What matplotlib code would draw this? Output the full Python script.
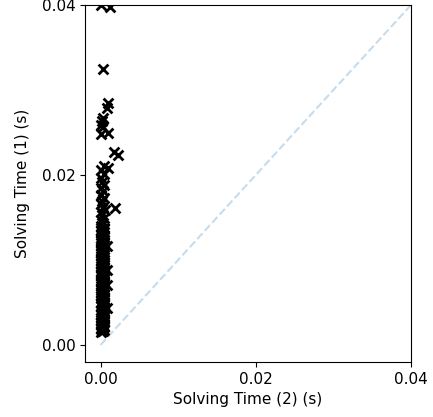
import matplotlib
matplotlib.use("Agg")
from matplotlib import pyplot as plt

# solving time of solver (2) vs solver (1), seconds
time2 = [0.0000, 0.0003, 0.0005, 0.0001, 0.0004, 0.0002, 0.0000, 0.0005, 0.0003, 0.0001,
         0.0004, 0.0000, 0.0002, 0.0005, 0.0003, 0.0008, 0.0001, 0.0004, 0.0000, 0.0002,
         0.0005, 0.0003, 0.0001, 0.0004, 0.0000, 0.0008, 0.0002, 0.0005, 0.0003, 0.0001,
         0.0004, 0.0000, 0.0002, 0.0005, 0.0003, 0.0001, 0.0004, 0.0000, 0.0008, 0.0002,
         0.0005, 0.0003, 0.0001, 0.0004, 0.0000, 0.0002, 0.0005, 0.0003, 0.0001, 0.0004,
         0.0000, 0.0008, 0.0002, 0.0005, 0.0003, 0.0001, 0.0004, 0.0000, 0.0002, 0.0005,
         0.0003, 0.0001, 0.0004,
         0.0002, 0.0000, 0.0004, 0.0001, 0.0003, 0.0005, 0.0000, 0.0002, 0.0004, 0.0001,
         0.0003, 0.0005, 0.0000, 0.0002, 0.0004, 0.0001, 0.0003, 0.0005, 0.0000, 0.0002,
         0.0004, 0.0001, 0.0003, 0.0005, 0.0000, 0.0002, 0.0004, 0.0001, 0.0003, 0.0005,
         0.0000, 0.0002, 0.0004, 0.0001, 0.0003, 0.0005, 0.0000, 0.0002, 0.0004, 0.0001,
         0.0003, 0.0005, 0.0000, 0.0002, 0.0004, 0.0001, 0.0003, 0.0005, 0.0000, 0.0002,
         0.0004, 0.0001, 0.0003, 0.0005, 0.0000, 0.0002, 0.0004, 0.0001, 0.0003, 0.0005,
         0.0001, 0.0003, 0.0000, 0.0004, 0.0002, 0.0000, 0.0006, 0.0003, 0.0001, 0.0002,
         0.0004, 0.0000, 0.0003, 0.0001, 0.0004, 0.0002, 0.0000, 0.0004, 0.0001, 0.0004,
         0.0009,
         0.0019, 0.0017, 0.0023, 0.0001, 0.0010, 0.0003, 0.0001, 0.0003, 0.0002, 0.0008,
         0.0009, 0.0003, 0.0000, 0.0012]
time1 = [0.0015, 0.0016, 0.0018, 0.0020, 0.0022, 0.0024, 0.0026, 0.0028, 0.0030, 0.0032,
         0.0034, 0.0036, 0.0038, 0.0040, 0.0042, 0.0043, 0.0046, 0.0048, 0.0050, 0.0052,
         0.0054, 0.0056, 0.0058, 0.0060, 0.0062, 0.0071, 0.0064, 0.0066, 0.0068, 0.0070,
         0.0072, 0.0074, 0.0076, 0.0078, 0.0080, 0.0082, 0.0084, 0.0086, 0.0088, 0.0090,
         0.0092, 0.0094, 0.0096, 0.0098, 0.0100, 0.0102, 0.0104, 0.0106, 0.0108, 0.0110,
         0.0112, 0.0116, 0.0114, 0.0118, 0.0120, 0.0122, 0.0124, 0.0126, 0.0128, 0.0130,
         0.0132, 0.0134, 0.0136,
         0.0017, 0.0019, 0.0021, 0.0023, 0.0025, 0.0027, 0.0029, 0.0031, 0.0033, 0.0035,
         0.0037, 0.0039, 0.0041, 0.0045, 0.0047, 0.0049, 0.0051, 0.0053, 0.0055, 0.0057,
         0.0059, 0.0061, 0.0063, 0.0065, 0.0067, 0.0069, 0.0073, 0.0075, 0.0077, 0.0079,
         0.0081, 0.0083, 0.0085, 0.0087, 0.0089, 0.0091, 0.0093, 0.0095, 0.0097, 0.0099,
         0.0101, 0.0103, 0.0105, 0.0107, 0.0109, 0.0111, 0.0113, 0.0115, 0.0117, 0.0119,
         0.0121, 0.0123, 0.0125, 0.0127, 0.0129, 0.0131, 0.0133, 0.0135, 0.0137, 0.0138,
         0.0140, 0.0143, 0.0147, 0.0150, 0.0153, 0.0157, 0.0159, 0.0162, 0.0166, 0.0170,
         0.0173, 0.0177, 0.0181, 0.0185, 0.0188, 0.0192, 0.0197, 0.0201, 0.0206, 0.0211,
         0.0208,
         0.0161, 0.0227, 0.0224, 0.0248, 0.0249, 0.0256, 0.0259, 0.0267, 0.0263, 0.0279,
         0.0285, 0.0325, 0.0400, 0.0398]

lim = [-0.002, 0.04]

plt.rcParams["font.size"] = 11

fig = plt.figure(figsize=(4.33, 4.17), dpi=100)
ax = fig.add_axes([85 / 433, 55 / 417, 326 / 433, 357 / 417])
ax.plot([0, 0.04], [0, 0.04], linestyle="--", color="#1f77b4", alpha=0.25)
ax.scatter(time2, time1, marker="x", c="k", s=50, linewidths=2.0, zorder=3)
ax.set_xlim(lim)
ax.set_ylim(lim)
ax.set_xticks([0.0, 0.02, 0.04])
ax.set_yticks([0.0, 0.02, 0.04])
ax.set_xlabel("Solving Time (2) (s)")
ax.set_ylabel("Solving Time (1) (s)", labelpad=8)

fig.savefig("out.png", dpi=100)
plt.close()
